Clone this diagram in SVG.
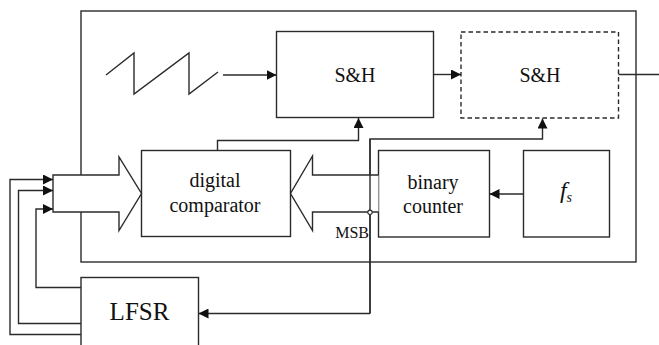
<svg xmlns="http://www.w3.org/2000/svg" width="659" height="345" viewBox="0 0 659 345">
<defs>
<style>
.ln{fill:none;stroke:#2b2b2b;stroke-width:1.4}
.bx{fill:#fff;stroke:#2b2b2b;stroke-width:1.4}
.dash{fill:#fff;stroke:#2b2b2b;stroke-width:1.4;stroke-dasharray:4.5,3}
text{font-family:'Liberation Serif','Times New Roman',serif;fill:#111}
.t{text-anchor:middle}
</style>
<marker id="ah" viewBox="0 0 10 10" refX="10" refY="5" markerWidth="10" markerHeight="10" markerUnits="userSpaceOnUse" orient="auto">
<path d="M0,0 L10,5 L0,10 Z" fill="#111"/>
</marker>
</defs>
<rect width="659" height="345" fill="#fff"/>
<g id="outer">
<rect class="ln" x="81" y="11" width="555" height="251"/>
</g>
<g id="sawtooth">
<polyline class="ln" points="106,75 134,53 134,94 189,53 189,94 218,72"/>
</g>
<g id="sh1">
<rect class="bx" x="276.5" y="31.5" width="157" height="86"/>
<text class="t" x="355" y="81.5" font-size="20" font-family="Liberation Serif, serif">S&amp;H</text>
</g>
<g id="sh2">
<rect class="dash" x="461" y="32" width="157.5" height="86"/>
<text class="t" x="540" y="81.5" font-size="20" font-family="Liberation Serif, serif">S&amp;H</text>
</g>
<g id="comparator">
<rect class="bx" x="141.5" y="150.5" width="149" height="86"/>
<text class="t" x="215" y="187" font-size="20" font-family="Liberation Serif, serif">digital</text>
<text class="t" x="215" y="211.5" font-size="20" font-family="Liberation Serif, serif">comparator</text>
</g>
<g id="counter">
<rect class="bx" x="378.5" y="150.5" width="111" height="86.5"/>
<text class="t" x="433" y="189" font-size="20" font-family="Liberation Serif, serif">binary</text>
<text class="t" x="433" y="212.5" font-size="20" font-family="Liberation Serif, serif">counter</text>
</g>
<g id="fs">
<rect class="bx" x="523.5" y="150.5" width="86" height="86.5"/>
<text class="t" x="566" y="198" font-size="24" font-style="italic" fill="#1a1a3a" font-family="Liberation Serif, serif">f<tspan font-size="14" dy="4">s</tspan></text>
</g>
<g id="lfsr">
<rect class="bx" x="81" y="277.5" width="117.5" height="80"/>
<text class="t" x="139.5" y="320" font-size="25" font-family="Liberation Serif, serif">LFSR</text>
</g>
<g id="connectors">
<line class="ln" x1="223" y1="75" x2="276.5" y2="75" marker-end="url(#ah)"/>
<line class="ln" x1="433.5" y1="74.5" x2="461" y2="74.5" marker-end="url(#ah)"/>
<line class="ln" x1="618.5" y1="74.5" x2="659" y2="74.5"/>
<polyline class="ln" points="217.5,150.5 217.5,140.5 358.5,140.5 358.5,118" marker-end="url(#ah)"/>
<polyline class="ln" points="370,313.5 370,139 542.5,139 542.5,118.5" marker-end="url(#ah)"/>
<line class="ln" x1="370" y1="313.5" x2="198.5" y2="313.5" marker-end="url(#ah)"/>
<line class="ln" x1="523.5" y1="194" x2="489.5" y2="194" marker-end="url(#ah)"/>
<polygon class="bx" points="53,175 119,175 119,157 141.5,193.5 119,230.5 119,212 53,212"/>
<polyline class="bx" points="378.5,175 312.5,175 312.5,156 290.5,193.5 312.5,230.5 312.5,212 378.5,212"/>
<line class="ln" x1="370" y1="139" x2="370" y2="313.5"/>
<circle cx="370" cy="212.3" r="2.2" fill="#fff" stroke="#2b2b2b" stroke-width="1.1"/>
<text x="369" y="237.5" font-size="16" text-anchor="end" font-family="Liberation Serif, serif">MSB</text>
<polyline class="ln" points="81,334.5 10,334.5 10,179.5 53,179.5" marker-end="url(#ah)"/>
<polyline class="ln" points="81,323.5 18.5,323.5 18.5,190.5 53,190.5" marker-end="url(#ah)"/>
<polyline class="ln" points="81,287.5 36,287.5 36,209 53,209" marker-end="url(#ah)"/>
</g>
</svg>
